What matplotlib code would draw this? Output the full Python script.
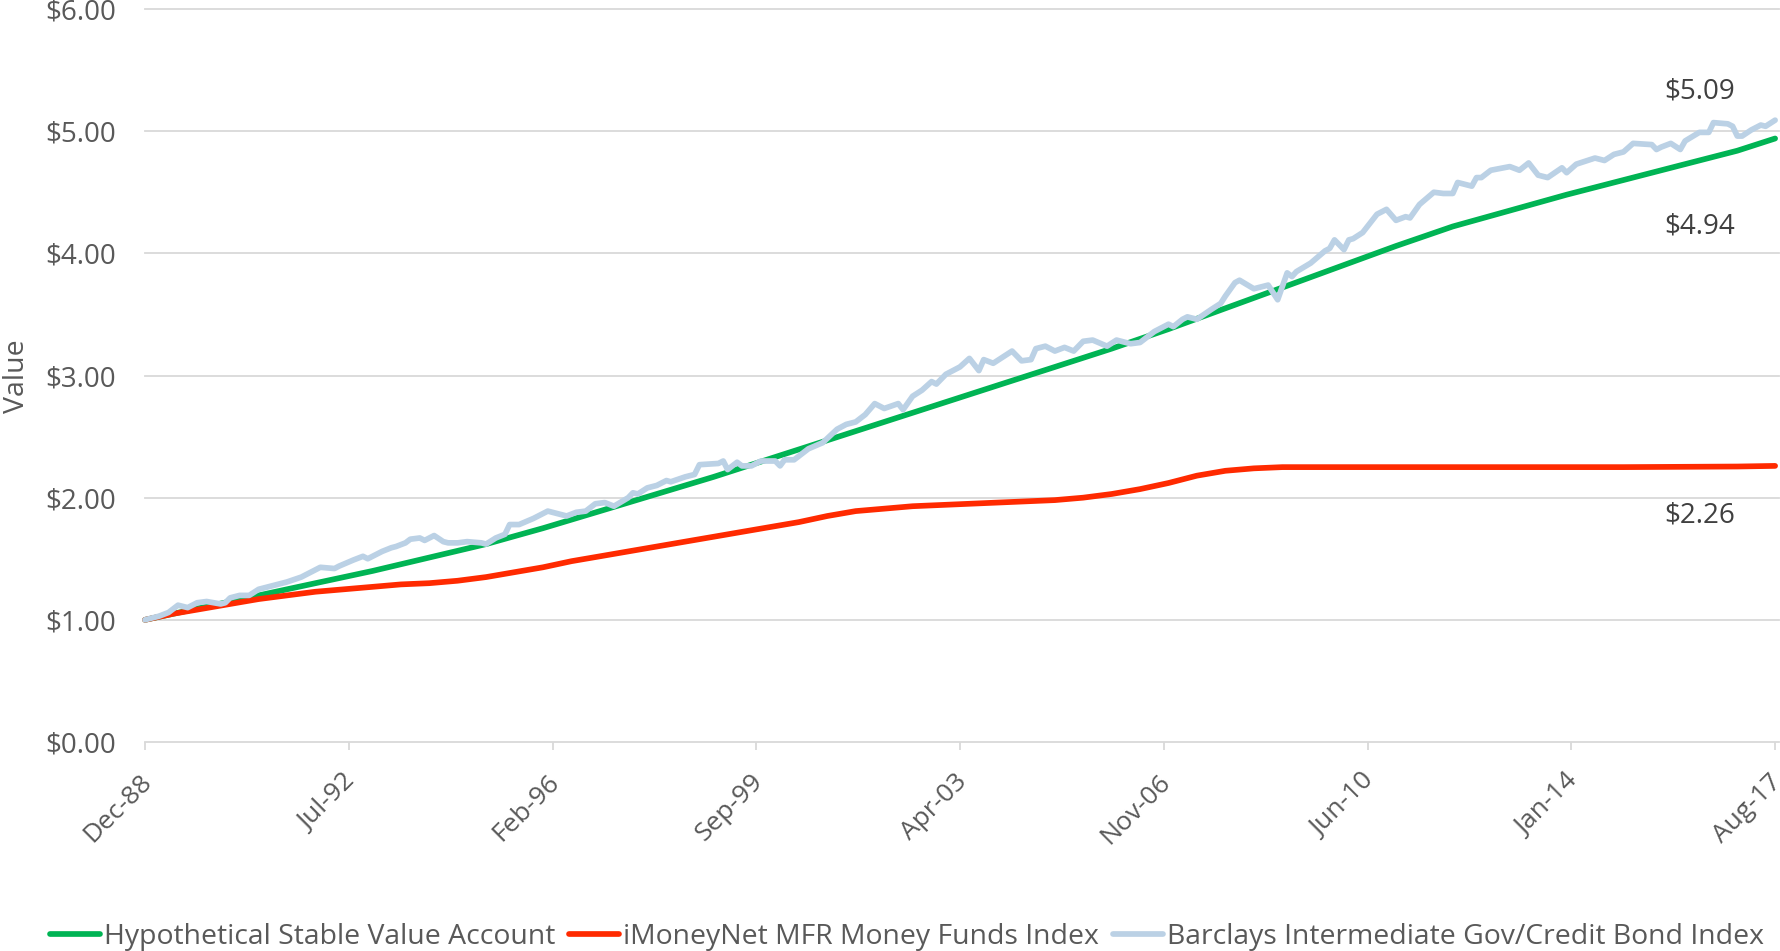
import matplotlib
matplotlib.use("Agg")
import matplotlib.pyplot as plt
from matplotlib.transforms import ScaledTranslation
from matplotlib.lines import Line2D
import pandas as pd

plt.rcParams['font.family'] = ['Open Sans', 'DejaVu Sans']

# ---- Data -------------------------------------------------------------
stable_dates = ['1988-12', '1989-12', '1990-12', '1991-12', '1992-12', '1993-12',
                '1994-12', '1995-12', '1996-12', '1997-12', '1998-12', '1999-12',
                '2000-12', '2001-12', '2002-12', '2003-12', '2004-12', '2005-12',
                '2006-12', '2007-12', '2008-12', '2009-12', '2010-12', '2011-12',
                '2012-12', '2013-12', '2014-12', '2015-12', '2016-12', '2017-08']
stable_values = [1.00, 1.10, 1.20, 1.30, 1.40, 1.51, 1.62, 1.75, 1.89, 2.03,
                 2.17, 2.32, 2.47, 2.62, 2.77, 2.92, 3.07, 3.22, 3.38, 3.55,
                 3.72, 3.89, 4.06, 4.22, 4.35, 4.48, 4.60, 4.72, 4.84, 4.94]

money_dates = ['1988-12', '1989-06', '1989-12', '1990-06', '1990-12', '1991-06',
               '1991-12', '1992-06', '1992-12', '1993-06', '1993-12', '1994-06',
               '1994-12', '1995-06', '1995-12', '1996-06', '1996-12', '1997-06',
               '1997-12', '1998-06', '1998-12', '1999-06', '1999-12', '2000-06',
               '2000-12', '2001-06', '2001-12', '2002-06', '2002-12', '2003-06',
               '2003-12', '2004-06', '2004-12', '2005-06', '2005-12', '2006-06',
               '2006-12', '2007-06', '2007-12', '2008-06', '2008-12', '2010-12',
               '2012-12', '2014-12', '2016-12', '2017-08']
money_values = [1.00, 1.05, 1.09, 1.13, 1.17, 1.20, 1.23, 1.25, 1.27, 1.29,
                1.30, 1.32, 1.35, 1.39, 1.43, 1.48, 1.52, 1.56, 1.60, 1.64,
                1.68, 1.72, 1.76, 1.80, 1.85, 1.89, 1.91, 1.93, 1.94, 1.95,
                1.96, 1.97, 1.98, 2.00, 2.03, 2.07, 2.12, 2.18, 2.22, 2.24,
                2.25, 2.25, 2.25, 2.25, 2.255, 2.26]

bond_dates = ['1988-12', '1989-03', '1989-05', '1989-07', '1989-09', '1989-11',
              '1990-01', '1990-04', '1990-05', '1990-06', '1990-08', '1990-10',
              '1990-12', '1991-03', '1991-06', '1991-09', '1992-01', '1992-04',
              '1992-05', '1992-08', '1992-10', '1992-11', '1993-02', '1993-04',
              '1993-05', '1993-07', '1993-08', '1993-10', '1993-11', '1994-01',
              '1994-03', '1994-04', '1994-06', '1994-08', '1994-11', '1994-12',
              '1995-02', '1995-04', '1995-05', '1995-07', '1995-10', '1996-01',
              '1996-04', '1996-05', '1996-07', '1996-09', '1996-11', '1997-01',
              '1997-03', '1997-06', '1997-07', '1997-08', '1997-10', '1997-12',
              '1998-02', '1998-03', '1998-06', '1998-08', '1998-09', '1999-01',
              '1999-02', '1999-03', '1999-05', '1999-06', '1999-08', '1999-10',
              '2000-01', '2000-02', '2000-03', '2000-05', '2000-06', '2000-08',
              '2000-11', '2001-02', '2001-04', '2001-06', '2001-08', '2001-10',
              '2001-12', '2002-03', '2002-04', '2002-06', '2002-08', '2002-10',
              '2002-11', '2003-01', '2003-03', '2003-04', '2003-06', '2003-08',
              '2003-09', '2003-11', '2004-03', '2004-05', '2004-07', '2004-08',
              '2004-10', '2004-12', '2005-02', '2005-04', '2005-06', '2005-08',
              '2005-11', '2006-01', '2006-04', '2006-06', '2006-09', '2006-12',
              '2007-01', '2007-03', '2007-04', '2007-06', '2007-09', '2007-11',
              '2007-12', '2008-02', '2008-03', '2008-06', '2008-08', '2008-09',
              '2008-11', '2009-01', '2009-02', '2009-03', '2009-06', '2009-09',
              '2009-10', '2009-11', '2010-01', '2010-02', '2010-03', '2010-05',
              '2010-08', '2010-10', '2010-12', '2011-02', '2011-03', '2011-05',
              '2011-08', '2011-10', '2011-12', '2012-01', '2012-04', '2012-05',
              '2012-06', '2012-08', '2012-12', '2013-02', '2013-04', '2013-06',
              '2013-08', '2013-11', '2013-12', '2014-02', '2014-06', '2014-08',
              '2014-10', '2014-12', '2015-02', '2015-06', '2015-07', '2015-08',
              '2015-10', '2015-12', '2016-01', '2016-04', '2016-06', '2016-07',
              '2016-10', '2016-11', '2016-12', '2017-01', '2017-03', '2017-05',
              '2017-06', '2017-08']
bond_values = [1.00, 1.03, 1.06, 1.12, 1.10, 1.14,
               1.15, 1.13, 1.14, 1.18, 1.20, 1.20,
               1.25, 1.28, 1.31, 1.35, 1.43, 1.42,
               1.44, 1.49, 1.52, 1.50, 1.56, 1.59,
               1.60, 1.63, 1.66, 1.67, 1.65, 1.69,
               1.64, 1.63, 1.63, 1.64, 1.63, 1.62,
               1.67, 1.70, 1.78, 1.78, 1.83, 1.89,
               1.86, 1.85, 1.88, 1.89, 1.95, 1.96,
               1.93, 2.00, 2.04, 2.03, 2.08, 2.10,
               2.14, 2.13, 2.17, 2.19, 2.27, 2.28,
               2.30, 2.23, 2.29, 2.26, 2.26, 2.30,
               2.30, 2.26, 2.31, 2.31, 2.34, 2.40,
               2.45, 2.56, 2.60, 2.62, 2.68, 2.77,
               2.73, 2.77, 2.72, 2.83, 2.88, 2.95,
               2.93, 3.01, 3.05, 3.07, 3.14, 3.04,
               3.13, 3.10, 3.20, 3.12, 3.13, 3.22,
               3.24, 3.20, 3.23, 3.20, 3.28, 3.29,
               3.24, 3.29, 3.26, 3.27, 3.36, 3.42,
               3.40, 3.46, 3.48, 3.46, 3.54, 3.59,
               3.65, 3.76, 3.78, 3.71, 3.73, 3.74,
               3.62, 3.84, 3.81, 3.85, 3.92, 4.02,
               4.04, 4.11, 4.03, 4.11, 4.12, 4.17,
               4.32, 4.36, 4.27, 4.30, 4.29, 4.40,
               4.50, 4.49, 4.49, 4.58, 4.55, 4.62,
               4.62, 4.68, 4.71, 4.68, 4.74, 4.64,
               4.62, 4.70, 4.66, 4.73, 4.78, 4.76,
               4.81, 4.83, 4.90, 4.89, 4.85, 4.87,
               4.90, 4.85, 4.92, 4.99, 4.99, 5.07,
               5.06, 5.04, 4.96, 4.96, 5.01, 5.05,
               5.04, 5.09]

series_names = ['Hypothetical Stable Value Account',
                'iMoneyNet MFR Money Funds Index',
                'Barclays Intermediate Gov/Credit Bond Index']
end_labels = [4.94, 2.26, 5.09]
x_tick_labels = ['Dec-88', 'Jul-92', 'Feb-96', 'Sep-99', 'Apr-03',
                 'Nov-06', 'Jun-10', 'Jan-14', 'Aug-17']
y_ticks = [0, 1, 2, 3, 4, 5, 6]

# ---- Styling ----------------------------------------------------------
GREEN = '#00B454'
RED = '#FF2A00'
BLUE = '#BBD1E5'
GRID = '#D9D9D9'
TICK_TXT = '#595959'
LABEL_TXT = '#404040'
FS = 20
LW = 4.1

W, H = 1781, 951
fig = plt.figure(figsize=(W / 100, H / 100), dpi=100)
ax = fig.add_axes([145 / W, (H - 742) / H, 1634 / W, 733 / H])

def to_dt(seq):
    return pd.to_datetime(seq, format='%Y-%m')

line_kw = dict(lw=LW, solid_capstyle='round', solid_joinstyle='round', clip_on=False)
ax.plot(to_dt(stable_dates), stable_values, color=GREEN, zorder=3, **line_kw)
ax.plot(to_dt(money_dates), money_values, color=RED, zorder=4, **line_kw)
ax.plot(to_dt(bond_dates), bond_values, color=BLUE, zorder=5, **line_kw)

# axes limits and grid
tick_pos = pd.to_datetime(x_tick_labels, format='%b-%y')
x_end = to_dt(['2017-08'])[0]
ax.set_xlim(tick_pos[0], x_end + pd.Timedelta(days=25))
ax.set_ylim(0, 6)
for s in ax.spines.values():
    s.set_visible(False)
for yv in y_ticks:
    ax.axhline(yv, color=GRID, lw=1.3, zorder=1, clip_on=False)

ax.set_yticks(y_ticks)
ax.set_yticklabels([f'${v:.2f}' for v in y_ticks])
ax.tick_params(axis='y', length=0, pad=21, labelsize=FS, labelcolor=TICK_TXT)

ax.set_xticks(tick_pos)
ax.set_xticklabels(x_tick_labels)
ax.tick_params(axis='x', length=6, width=1.3, color=GRID, direction='out',
               pad=20, labelsize=FS - 1, labelcolor=TICK_TXT)
shift = ScaledTranslation(0.03, 0, fig.dpi_scale_trans)
for lab in ax.get_xticklabels():
    lab.set_rotation(45)
    lab.set_rotation_mode('anchor')
    lab.set_ha('right')
    lab.set_va('center')
    lab.set_transform(lab.get_transform() + shift)

fig.text(17 / W, 1 - 376 / H, 'Value', rotation=90, ha='center', va='center',
         fontsize=FS + 0.5, color=TICK_TXT)

# end-of-series value labels
last_dates = [stable_dates[-1], money_dates[-1], bond_dates[-1]]
offsets = [(-54, -68.3), (-54, -40.4), (-54, 15.6)]
for d, v, off in zip(last_dates, end_labels, offsets):
    ax.annotate(f'${v:.2f}', xy=(to_dt([d])[0], v), xytext=off,
                textcoords='offset points', ha='center', va='baseline',
                fontsize=FS, color=LABEL_TXT)

# legend along the bottom
handles = [Line2D([], [], color=c, lw=LW, solid_capstyle='round')
           for c in (GREEN, RED, BLUE)]
fig.legend(handles, series_names, loc='center left',
           bbox_to_anchor=(50 / W, 1 - 937 / H), ncol=3, frameon=False,
           fontsize=20.4, labelcolor=TICK_TXT, handlelength=1.75,
           handletextpad=0.15, columnspacing=0.5, borderpad=0,
           borderaxespad=0)

fig.savefig('out.png', dpi=100)
